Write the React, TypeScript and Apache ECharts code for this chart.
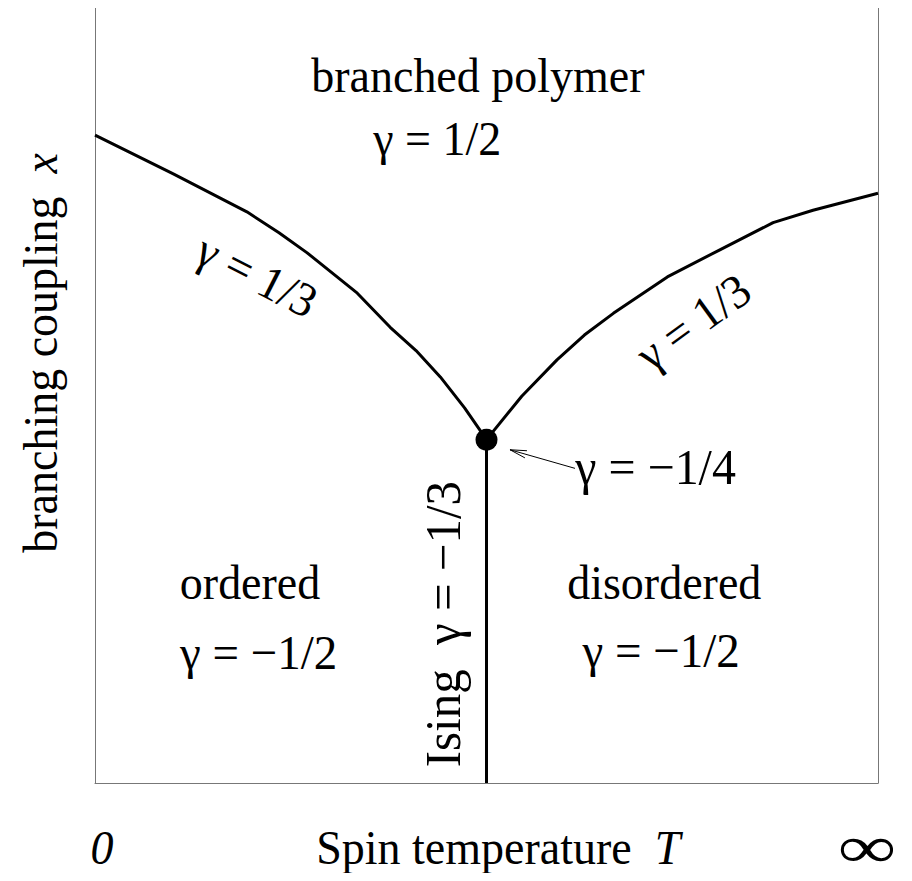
import React, { useEffect, useRef } from "react";
import * as echarts from "echarts";

// Phase boundaries (x: spin temperature 0..100 scale, y: branching coupling 0..100 scale)
const leftBoundary: [number, number][] = [
  [0, 83.6], [10, 78.6], [19.4, 73.7], [23.5, 71.0], [27.1, 68.4], [33.5, 63.2],
  [37.7, 58.8], [41.0, 55.8], [44.1, 52.4], [47.2, 48.4], [50, 44.3],
];
const rightBoundary: [number, number][] = [
  [50, 44.3], [54.5, 49.9], [59.0, 54.6], [62.5, 57.8], [66.2, 60.6], [73.1, 65.3],
  [79.8, 68.8], [86.6, 72.3], [91.7, 73.9], [100, 76.1],
];
const isingLine: [number, number][] = [[50, 0], [50, 44.3]];
const criticalPoint: [number, number][] = [[50, 44.3]];
const arrowLine: [number, number][] = [[61.3, 40.6], [53.0, 43.0]];

const FONT = "'Liberation Serif', 'Times New Roman', serif";
const FS = 46;

// Annotations: text, anchor in data units, rotation (rad)
const labels: { text: string; x: number; y: number; rot: number; fs?: number; sy?: number }[] = [
  { text: "branched polymer", x: 48.9, y: 91.3, rot: 0 },
  { text: "γ = 1/2", x: 43.7, y: 83.2, rot: 0 },
  { text: "γ = 1/3", x: 20.7, y: 65.5, rot: -0.47 },
  { text: "γ = 1/3", x: 76.4, y: 59.5, rot: 0.63 },
  { text: "γ = −1/4", x: 71.6, y: 40.8, rot: 0, fs: 48 },
  { text: "ordered", x: 19.8, y: 25.8, rot: 0 },
  { text: "γ = −1/2", x: 20.9, y: 16.9, rot: 0, fs: 47 },
  { text: "disordered", x: 72.7, y: 25.8, rot: 0 },
  { text: "γ = −1/2", x: 72.3, y: 17.2, rot: 0, fs: 47 },
  { text: "Ising  γ = −1/3", x: 44.4, y: 20.5, rot: Math.PI / 2, fs: 49 },
  { text: "branching coupling  {i|x}", x: -7.0, y: 55.5, rot: Math.PI / 2 },
  { text: "{i|0}", x: 0.9, y: -8.4, rot: 0 },
  { text: "Spin temperature  {i|T}", x: 51.5, y: -8.4, rot: 0 },
  { text: "∞", x: 98.6, y: -8.2, rot: 0, fs: 82, sy: 0.72 },
];

export default function App() {
  const ref = useRef<HTMLDivElement>(null);
  useEffect(() => {
    if (!ref.current) return;
    const chart = echarts.init(ref.current, null, { renderer: "svg" });
    const axisLine = { show: true, lineStyle: { color: "#777", width: 1 } };
    const hidden = { axisTick: { show: false }, axisLabel: { show: false }, splitLine: { show: false } };
    chart.setOption({
      animation: false,
      backgroundColor: "#fff",
      grid: { left: 95, right: 34, top: 8, bottom: 98 },
      xAxis: { type: "value", min: 0, max: 100, axisLine, ...hidden },
      yAxis: [
        { type: "value", min: 0, max: 100, position: "left", axisLine, ...hidden },
        { type: "value", min: 0, max: 100, position: "right", axisLine, ...hidden },
      ],
      series: [
        { type: "line", data: leftBoundary, smooth: false, symbol: "none", lineStyle: { color: "#000", width: 3, join: "round" } },
        { type: "line", data: rightBoundary, smooth: false, symbol: "none", lineStyle: { color: "#000", width: 3, join: "round" } },
        { type: "line", data: isingLine, symbol: "none", lineStyle: { color: "#000", width: 3 } },
        { type: "line", data: arrowLine, symbol: "none", lineStyle: { color: "#000", width: 1 } },
        { type: "scatter", data: criticalPoint, symbolSize: 22, itemStyle: { color: "#000", opacity: 1 }, z: 5 },
      ],
    });
    const toPx = (p: [number, number]) => chart.convertToPixel({ gridIndex: 0 }, p) as number[];
    const graphics: any[] = labels.map((l) => {
      const [px, py] = toPx([l.x, l.y]);
      const fs = l.fs || FS;
      return {
        type: "text",
        x: px,
        y: py,
        rotation: l.rot,
        scaleY: l.sy || 1.04,
        style: {
          text: l.text,
          fontFamily: FONT,
          fontSize: fs,
          fill: "#000",
          align: "center",
          verticalAlign: "middle",
          rich: { i: { fontFamily: FONT, fontSize: fs, fontStyle: "italic", fill: "#000" } },
        },
      };
    });
    // open arrowhead at the tip of the pointer
    const tip = toPx(arrowLine[1]);
    const tail = toPx(arrowLine[0]);
    const ang = Math.atan2(tail[1] - tip[1], tail[0] - tip[0]);
    const L = 17, spread = 0.22;
    graphics.push({
      type: "polyline",
      shape: {
        points: [
          [tip[0] + L * Math.cos(ang - spread), tip[1] + L * Math.sin(ang - spread)],
          tip,
          [tip[0] + L * Math.cos(ang + spread), tip[1] + L * Math.sin(ang + spread)],
        ],
      },
      style: { stroke: "#000", lineWidth: 1, fill: "none" },
    });
    chart.setOption({ graphic: graphics });
    return () => chart.dispose();
  }, []);
  return <div ref={ref} style={{ width: 912, height: 881, margin: -8 }} />;
}
